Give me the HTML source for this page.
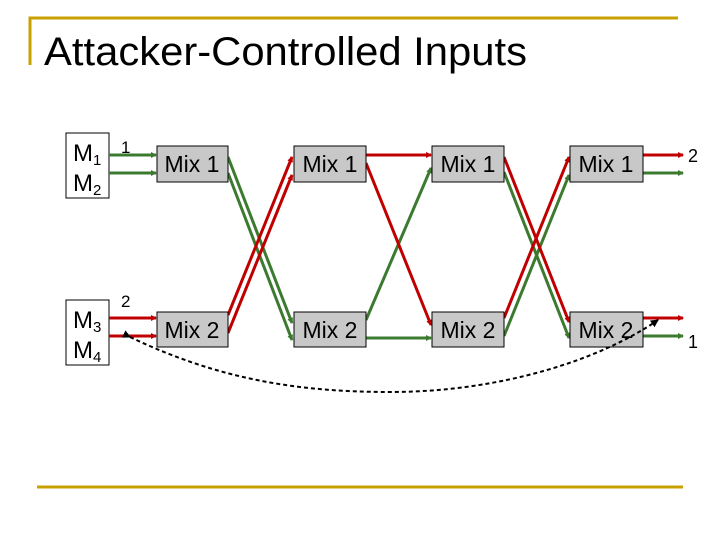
<!DOCTYPE html>
<html><head><style>
body{margin:0;background:#fff;width:720px;height:540px;overflow:hidden}
svg{display:block}
text{font-family:"Liberation Sans",sans-serif}
</style></head><body>
<svg width="720" height="540" viewBox="0 0 720 540">
<defs>
<marker id="ar" markerWidth="6" markerHeight="6" refX="5" refY="3" orient="auto" markerUnits="userSpaceOnUse"><path d="M0,0L6,3L0,6z" fill="#c00000"/></marker>
<marker id="ag" markerWidth="6" markerHeight="6" refX="5" refY="3" orient="auto" markerUnits="userSpaceOnUse"><path d="M0,0L6,3L0,6z" fill="#3c7a30"/></marker>
<marker id="ak" markerWidth="8" markerHeight="8" refX="7" refY="4" orient="auto" markerUnits="userSpaceOnUse"><path d="M0,0L8,4L0,8z" fill="#000"/></marker>
</defs>
<path d="M30,65V18H678" stroke="#c8a000" stroke-width="3" fill="none"/>
<path d="M37,487H683" stroke="#c8a000" stroke-width="3"/>
<text x="44" y="65" font-size="40" fill="#000" textLength="483" lengthAdjust="spacingAndGlyphs">Attacker-Controlled Inputs</text>
<rect x="66" y="133" width="43" height="65" fill="#fff" stroke="#000"/>
<rect x="66" y="300" width="43" height="65" fill="#fff" stroke="#000"/>
<text x="73" y="161" font-size="24">M<tspan font-size="15" dy="4">1</tspan></text>
<text x="73" y="191" font-size="24">M<tspan font-size="15" dy="4">2</tspan></text>
<text x="73" y="328" font-size="24">M<tspan font-size="15" dy="4">3</tspan></text>
<text x="73" y="358" font-size="24">M<tspan font-size="15" dy="4">4</tspan></text>
<text x="121" y="153" font-size="17">1</text>
<text x="121" y="307" font-size="17">2</text>
<text x="688" y="162" font-size="18">2</text>
<text x="688" y="348" font-size="18">1</text>
<g stroke-width="3" fill="none">
<g stroke="#3c7a30" marker-end="url(#ag)">
<line x1="109" y1="155" x2="156" y2="155"/><line x1="109" y1="173" x2="156" y2="173"/>
<line x1="228" y1="157" x2="292" y2="323"/><line x1="228" y1="173" x2="292" y2="340"/>
<line x1="366" y1="338" x2="431" y2="338"/><line x1="366" y1="320" x2="431" y2="168"/>
<line x1="504" y1="172" x2="569" y2="338"/><line x1="504" y1="336" x2="569" y2="175"/>
<line x1="643" y1="173" x2="683" y2="173"/><line x1="643" y1="336" x2="683" y2="336"/>
</g>
<g stroke="#c00000" marker-end="url(#ar)">
<line x1="109" y1="318" x2="156" y2="318"/><line x1="109" y1="336" x2="156" y2="336"/>
<line x1="228" y1="315" x2="292" y2="157"/><line x1="228" y1="333" x2="292" y2="175"/>
<line x1="366" y1="155" x2="431" y2="155"/><line x1="366" y1="163" x2="431" y2="325"/>
<line x1="504" y1="157" x2="569" y2="322"/><line x1="504" y1="318" x2="569" y2="157"/>
<line x1="643" y1="155" x2="683" y2="155"/><line x1="643" y1="318" x2="683" y2="318"/>
</g>
</g>
<g fill="#c8c8c8" stroke="#000" stroke-width="1">
<rect x="157" y="146" width="71" height="36"/><rect x="294" y="146" width="72" height="36"/>
<rect x="432" y="146" width="72" height="36"/><rect x="570" y="146" width="73" height="36"/>
<rect x="157" y="312" width="71" height="35"/><rect x="294" y="312" width="72" height="35"/>
<rect x="432" y="312" width="72" height="35"/><rect x="570" y="312" width="73" height="35"/>
</g>
<g font-size="23" text-anchor="middle">
<text x="192" y="172">Mix 1</text><text x="330" y="172">Mix 1</text><text x="468" y="172">Mix 1</text><text x="606" y="172">Mix 1</text>
<text x="192" y="338">Mix 2</text><text x="330" y="338">Mix 2</text><text x="468" y="338">Mix 2</text><text x="606" y="338">Mix 2</text>
</g>
<path d="M130,337 C220,380 300,392 390,392 C500,392 600,360 658,320" stroke="#000" stroke-width="2" stroke-dasharray="4,3" fill="none" marker-end="url(#ak)" marker-start="url(#ak)"/>
</svg>
</body></html>
